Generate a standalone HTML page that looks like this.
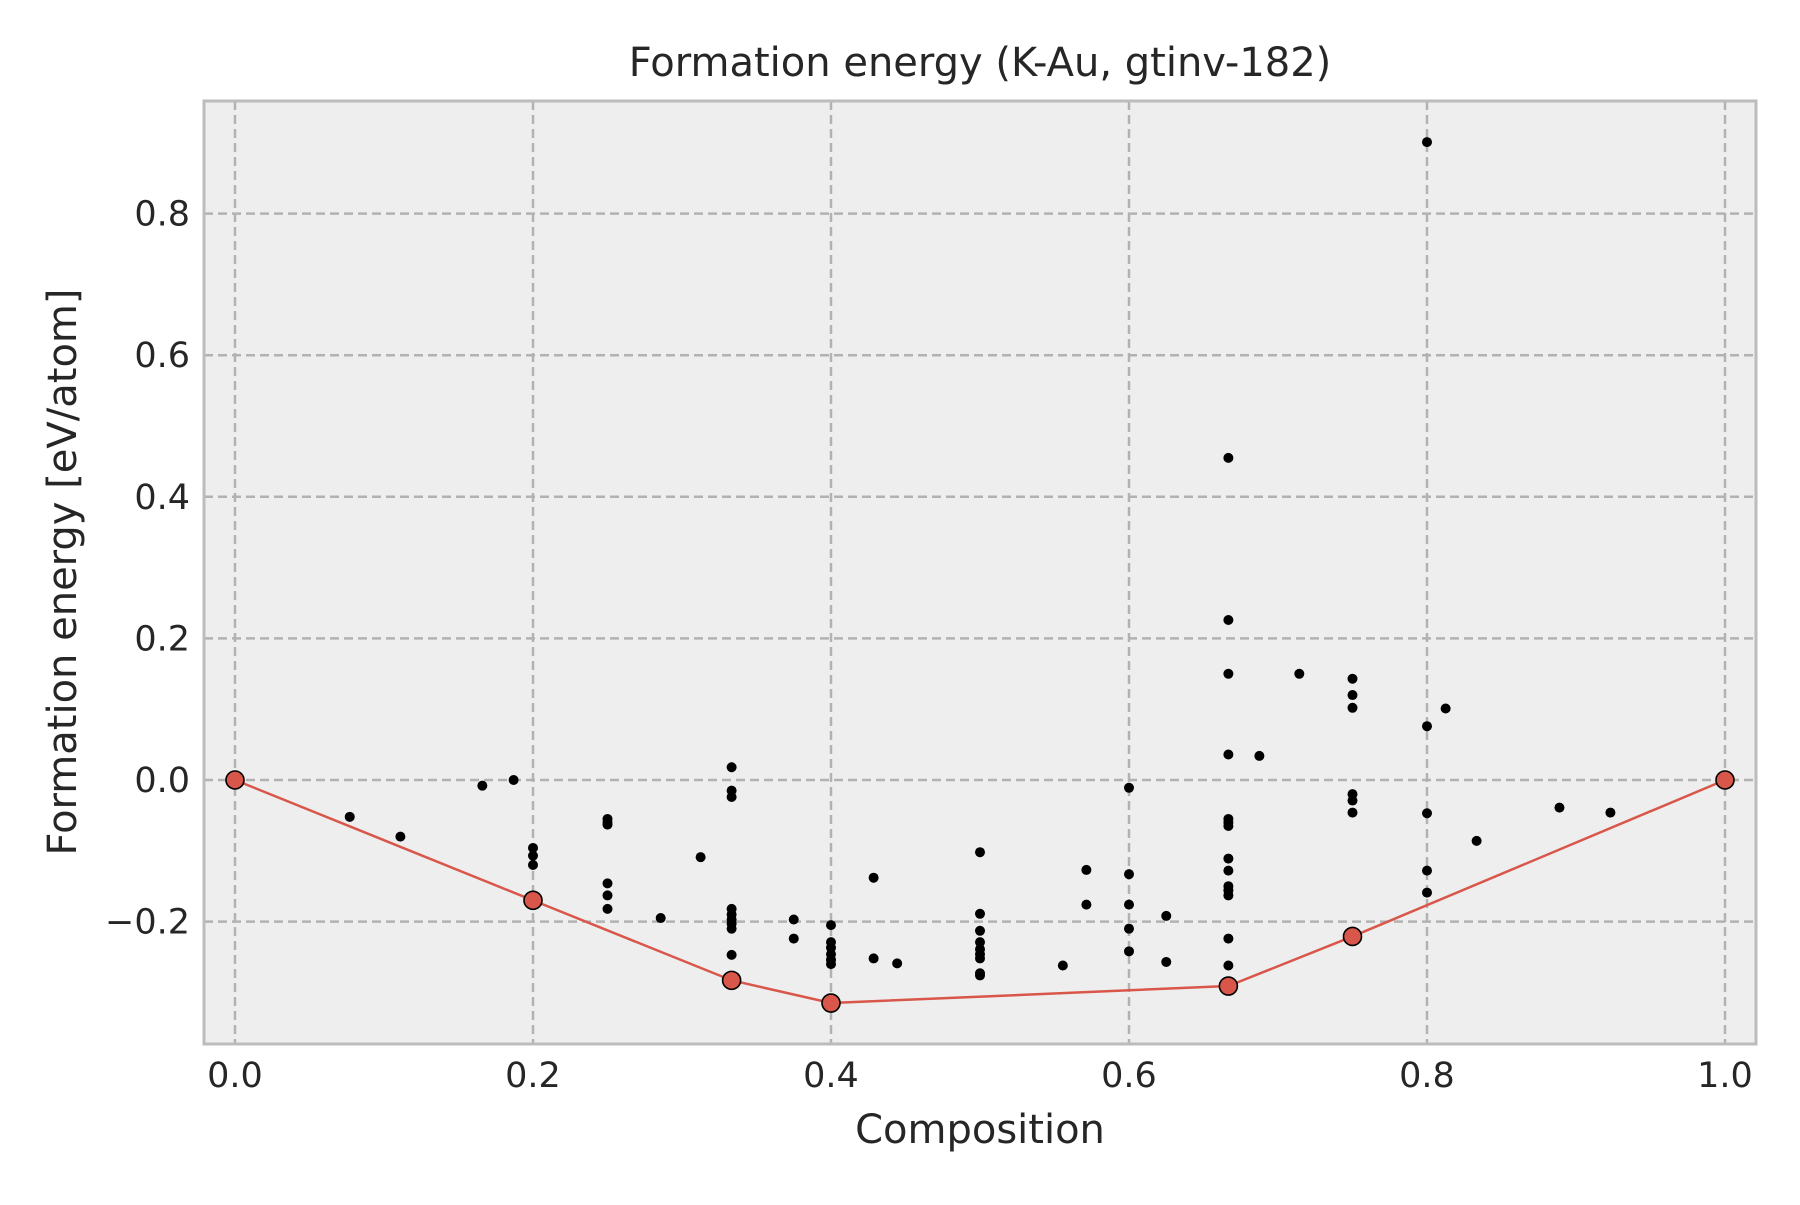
<!DOCTYPE html>
<html><head><meta charset="utf-8"><style>
html,body{margin:0;padding:0;background:#fff;}
svg text{font-family:"DejaVu Sans","Liberation Sans",sans-serif;fill:#262626;}
</style></head><body>
<svg id="chart" width="1800" height="1200" viewBox="0 0 1800 1200" xmlns="http://www.w3.org/2000/svg">
<rect x="0" y="0" width="1800" height="1200" fill="#fff"/>
<rect x="204" y="101" width="1552" height="943" fill="#eeeeee"/>
<g id="grid"></g>
<g id="marks"></g>
<rect x="204" y="101" width="1552" height="943" fill="none" stroke="#bcbcbc" stroke-width="3"/>
<g id="ticks"></g>
<text x="980" y="76" font-size="40" text-anchor="middle">Formation energy (K-Au, gtinv-182)</text>
<text x="980" y="1143" font-size="40" text-anchor="middle">Composition</text>
<text x="0" y="0" font-size="40" text-anchor="middle" transform="translate(76,572) rotate(-90)">Formation energy [eV/atom]</text>
</svg>
<script>
const xTicks=[0,0.2,0.4,0.6,0.8,1.0];
const xTickLabels=["0.0","0.2","0.4","0.6","0.8","1.0"];
const yTicks=[-0.2,0,0.2,0.4,0.6,0.8];
const yTickLabels=["\u22120.2","0.0","0.2","0.4","0.6","0.8"];
const hullX=[0,0.2,0.3333,0.4,0.6667,0.75,1];
const hullY=[0,-0.170,-0.283,-0.315,-0.291,-0.221,0];
const pointX=[0.077,0.111,0.166,0.187,
0.2,0.2,0.2,
0.25,0.25,0.25,0.25,0.25,0.25,
0.2857,0.3125,
0.3333,0.3333,0.3333,0.3333,0.3333,0.3333,0.3333,0.3333,0.3333,
0.375,0.375,
0.4,0.4,0.4,0.4,0.4,0.4,
0.4286,0.4286,0.4444,
0.5,0.5,0.5,0.5,0.5,0.5,0.5,0.5,0.5,
0.5556,0.5714,0.5714,
0.6,0.6,0.6,0.6,0.6,
0.625,0.625,
0.6667,0.6667,0.6667,0.6667,0.6667,0.6667,0.6667,0.6667,0.6667,0.6667,0.6667,0.6667,0.6667,0.6667,
0.6875,0.7143,
0.75,0.75,0.75,0.75,0.75,0.75,
0.8,0.8,0.8,0.8,0.8,
0.8125,0.8333,0.8889,0.9231];
const pointY=[-0.052,-0.080,-0.008,0.0,
-0.096,-0.107,-0.120,
-0.055,-0.060,-0.063,-0.146,-0.163,-0.182,
-0.195,-0.109,
0.018,-0.015,-0.024,-0.182,-0.190,-0.197,-0.203,-0.210,-0.247,
-0.197,-0.224,
-0.205,-0.229,-0.237,-0.246,-0.254,-0.260,
-0.252,-0.138,-0.259,
-0.102,-0.189,-0.213,-0.229,-0.239,-0.246,-0.252,-0.273,-0.276,
-0.262,-0.127,-0.176,
-0.011,-0.133,-0.176,-0.210,-0.242,
-0.192,-0.257,
0.455,0.226,0.150,0.036,-0.055,-0.060,-0.065,-0.111,-0.128,-0.150,-0.156,-0.163,-0.224,-0.262,
0.034,0.150,
0.143,0.120,0.102,-0.020,-0.029,-0.046,
0.901,0.076,-0.047,-0.128,-0.159,
0.101,-0.086,-0.039,-0.046];

const NS='http://www.w3.org/2000/svg';
function sx(v){return 235+v*1490;}
function sy(v){return 780-v*708;}
function mk(tag,attrs,parent){const e=document.createElementNS(NS,tag);for(const k in attrs)e.setAttribute(k,attrs[k]);parent.appendChild(e);return e;}
const grid=document.getElementById('grid'),marks=document.getElementById('marks'),ticks=document.getElementById('ticks');
xTicks.forEach((t,i)=>{
  const l=mk('line',{x1:sx(t),x2:sx(t),y1:101,y2:1044,stroke:'#b2b2b2','stroke-width':2.5,'stroke-dasharray':'9,5'},grid);
  
  
  const tx=mk('text',{x:sx(t),y:1087,'font-size':35,'text-anchor':'middle'},ticks);
  tx.textContent=xTickLabels[i];
  
  
});
yTicks.forEach((t,i)=>{
  const l=mk('line',{x1:204,x2:1756,y1:sy(t),y2:sy(t),stroke:'#b2b2b2','stroke-width':2.5,'stroke-dasharray':'9,5'},grid);
  
  
  const tx=mk('text',{x:190,y:sy(t)+12,'font-size':35,'text-anchor':'end'},ticks);
  tx.textContent=yTickLabels[i];
  
  
});
pointX.forEach((x,i)=>{
  const c=mk('circle',{cx:sx(x),cy:sy(pointY[i]),r:5,fill:'#000'},marks);
  
  
});
const pl=mk('polyline',{points:hullX.map((x,i)=>sx(x)+','+sy(hullY[i])).join(' '),fill:'none',stroke:'#d9574a','stroke-width':2.5},marks);


hullX.forEach((x,i)=>{
  const c=mk('circle',{cx:sx(x),cy:sy(hullY[i]),r:9,fill:'#d9574a',stroke:'#000','stroke-width':1.6},marks);
  
  
});
</script>
</body></html>
